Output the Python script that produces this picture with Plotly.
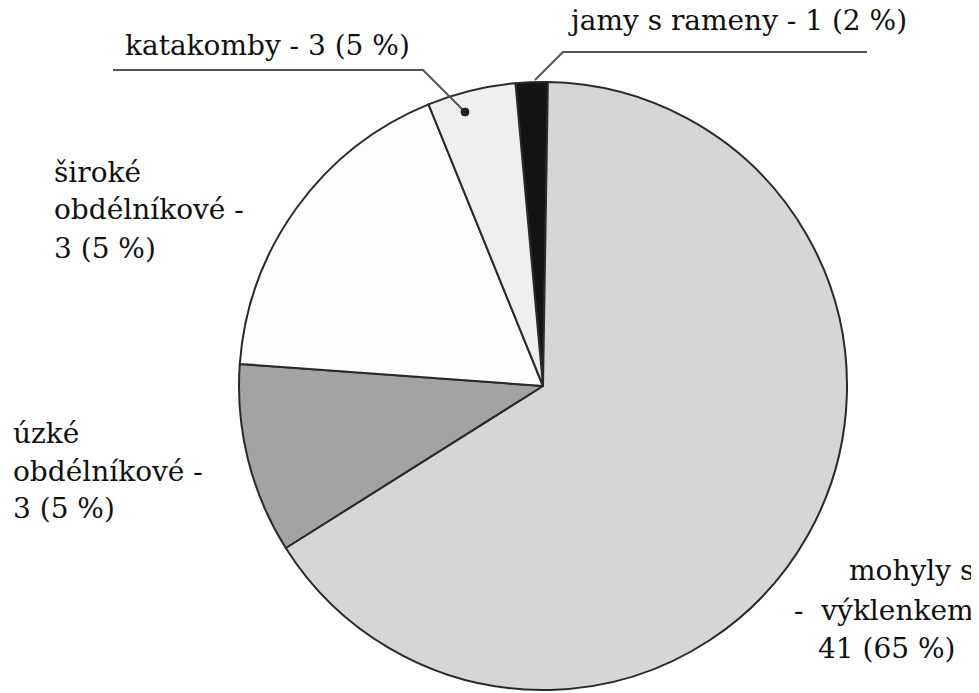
import plotly.graph_objects as go

W, H = 979, 693
OFF = 8  # page body margin of the browser

# Slice order clockwise starting from the black slice at the top
categories = ["jamy s rameny", "mohyly s výklenkem", "úzké obdélníkové",
              "široké obdélníkové", "katakomby"]
# values (percent of the circle)
slice_values = [1.7, 65.8, 10.1, 17.7, 4.7]
slice_colors = ["#141414", "#d6d6d6", "#a3a3a3", "#fdfdfd", "#efefef"]

label_lines = {
    "katakomby": ["katakomby - 3 (5 %)"],
    "jamy": ["jamy s rameny - 1 (2 %)"],
    "siroke": ["široké", "obdélníkové -", "3 (5 %)"],
    "uzke": ["úzké", "obdélníkové -", "3 (5 %)"],
    "mohyly": ["mohyly s", "-  výklenkem", "41 (65 %)"],
}

def px(x):
    return (x - OFF) / W

def py(y):
    return 1 - (y - OFF) / H

cx, cy, r = 543, 386, 304

fig = go.Figure(go.Pie(
    labels=categories,
    values=slice_values,
    sort=False,
    direction="clockwise",
    rotation=-5.2,
    textinfo="none",
    hoverinfo="label+percent",
    marker=dict(colors=slice_colors, line=dict(color="#2a2a2a", width=2)),
    domain=dict(x=[px(cx - r), px(cx + r)], y=[max(0, py(cy + r)), py(cy - r)]),
    showlegend=False,
))

FONT = "DejaVu Serif"
FS = 28

def add_text(lines, x, baseline0, step, anchor="left"):
    for i, t in enumerate(lines):
        b = baseline0 + i * step
        fig.add_annotation(
            x=px(x), y=py(b - 10), xref="paper", yref="paper",
            text=t, showarrow=False, xanchor=anchor, yanchor="middle",
            font=dict(family=FONT, size=FS, color="#111"),
        )

add_text(label_lines["katakomby"], 123, 55, 38)
add_text(label_lines["jamy"], 566, 31, 38)
add_text(label_lines["siroke"], 52, 182, 38)
add_text(label_lines["uzke"], 11, 443, 38)
add_text(label_lines["mohyly"][:1], 976, 580, 39, anchor="right")
add_text(label_lines["mohyly"][1:2], 976, 620, 39, anchor="right")
add_text(label_lines["mohyly"][2:], 958, 658, 39, anchor="right")

def path(points):
    d = "M " + " L ".join(f"{px(x):.5f},{py(y):.5f}" for x, y in points)
    return d

fig.add_shape(type="path", xref="paper", yref="paper",
              path=path([(113, 70), (423, 70), (465, 112)]),
              line=dict(color="#555", width=2))
fig.add_shape(type="circle", xref="paper", yref="paper",
              x0=px(461), x1=px(469), y0=py(116), y1=py(108),
              fillcolor="#222", line=dict(color="#222", width=1))
fig.add_shape(type="path", xref="paper", yref="paper",
              path=path([(867, 52), (563, 52), (535, 80)]),
              line=dict(color="#555", width=2))

fig.update_layout(
    width=W, height=H,
    margin=dict(l=0, r=0, t=0, b=0),
    paper_bgcolor="white", plot_bgcolor="white",
)

fig.write_html("out.html")
